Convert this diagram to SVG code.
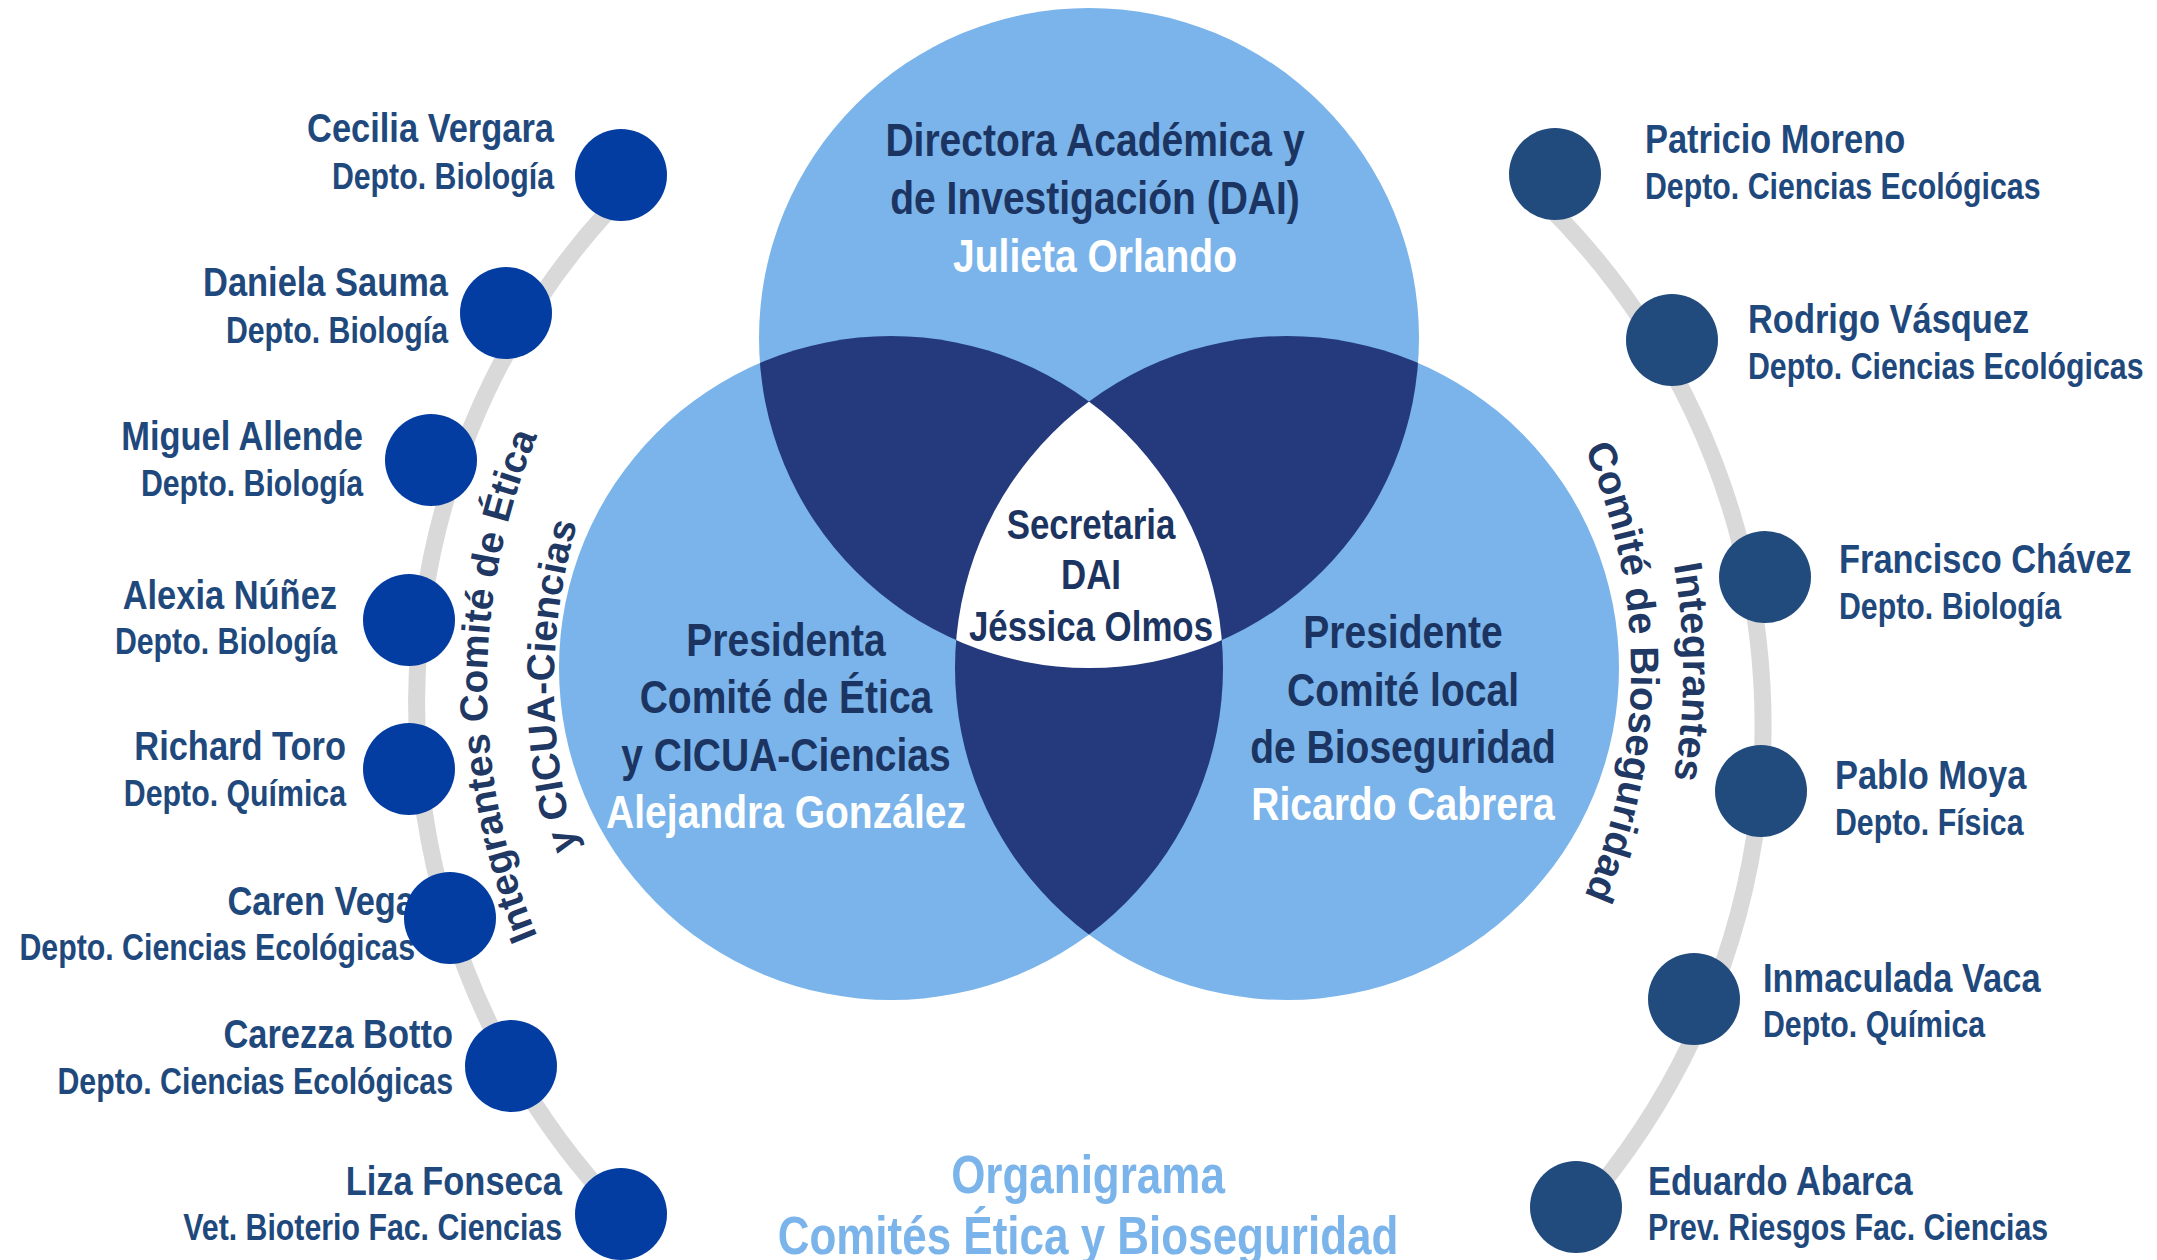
<svg xmlns="http://www.w3.org/2000/svg" width="2157" height="1260" viewBox="0 0 2157 1260">
<style>
.t{font-family:"Liberation Sans",Arial,sans-serif;font-weight:bold}
.nm{font-size:41.5px;fill:#1F497D}
.dp{font-size:36.5px;fill:#1F497D}
.vt{font-size:47px;fill:#1C3461}
.vs{font-size:42px;fill:#1C3461}
.w{fill:#FFFFFF}
.lab{font-size:39px;fill:#1F3864}
.labr{font-size:40px;fill:#1F3864}
.lb{fill:#7AB4EA}
.dk{fill:#243A7C}
.nl{fill:#033DA1}
.nr{fill:#214B7C}
.arc{fill:none;stroke:#D9D9D9;stroke-width:17}
.ttl{font-size:53px;fill:#7AB4EA}
</style>
<defs>
<clipPath id="cL"><circle cx="891" cy="668" r="332"/></clipPath>
<clipPath id="cR"><circle cx="1287" cy="668" r="332"/></clipPath>
<path id="pL1" d="M 718.1 1181.6 A 647 647 0 0 1 718.1 190.4" fill="none"/>
<path id="pL2" d="M 761.2 1130.3 A 580 580 0 0 1 761.2 241.7" fill="none"/>
<path id="pR1" d="M 1463.7 201.6 A 614 614 0 0 1 1463.7 1142.4" fill="none"/>
<path id="pR2" d="M 1430.2 241.5 A 562 562 0 0 1 1430.2 1102.5" fill="none"/>
</defs>
<rect width="2157" height="1260" fill="#FFFFFF"/>

<g id="dai">
<circle class="lb" cx="1089" cy="338" r="330"/>
<text class="t vt" text-anchor="middle" transform="translate(1095 0) scale(0.83 1)"><tspan x="0" y="156">Directora Académica y</tspan><tspan x="0" y="214">de Investigación (DAI)</tspan><tspan class="w" x="0" y="272">Julieta Orlando</tspan></text>
</g>

<g id="comite-etica">
<circle class="lb" cx="891" cy="668" r="332"/>
<text class="t vt" text-anchor="middle" transform="translate(786 0) scale(0.83 1)"><tspan x="0" y="656">Presidenta</tspan><tspan x="0" y="713">Comité de Ética</tspan><tspan x="0" y="771">y CICUA-Ciencias</tspan><tspan class="w" x="0" y="828">Alejandra González</tspan></text>
</g>

<g id="comite-bioseguridad">
<circle class="lb" cx="1287" cy="668" r="332"/>
<text class="t vt" text-anchor="middle" transform="translate(1403 0) scale(0.83 1)"><tspan x="0" y="648">Presidente</tspan><tspan x="0" y="706">Comité local</tspan><tspan x="0" y="763">de Bioseguridad</tspan><tspan class="w" x="0" y="820">Ricardo Cabrera</tspan></text>
</g>

<g id="overlaps">
<circle class="dk" cx="1089" cy="338" r="330" clip-path="url(#cL)"/>
<circle class="dk" cx="1089" cy="338" r="330" clip-path="url(#cR)"/>
<circle class="dk" cx="891" cy="668" r="332" clip-path="url(#cR)"/>
<g clip-path="url(#cL)"><circle fill="#FFFFFF" cx="1089" cy="338" r="330" clip-path="url(#cR)"/></g>
</g>

<g id="secretaria">
<text class="t vs" text-anchor="middle" transform="translate(1091 0) scale(0.83 1)"><tspan x="0" y="539">Secretaria</tspan><tspan x="0" y="589">DAI</tspan><tspan x="0" y="641">Jéssica Olmos</tspan></text>
</g>

<g id="labels">
<text class="t lab"><textPath href="#pL1" startOffset="50%" text-anchor="middle">Integrantes Comité de Ética</textPath></text>
<text class="t lab"><textPath href="#pL2" startOffset="50%" text-anchor="middle">y CICUA-Ciencias</textPath></text>
<text class="t labr"><textPath href="#pR1" startOffset="50%" text-anchor="middle">Integrantes</textPath></text>
<text class="t labr"><textPath href="#pR2" startOffset="50%" text-anchor="middle">Comité de Bioseguridad</textPath></text>
</g>

<g id="connectors">
<path class="arc" d="M 609 210 A 733 733 0 0 0 600 1190"/>
<path class="arc" d="M 1542 200 A 734 734 0 0 1 1597 1190"/>
</g>

<g id="m-cecilia">
<text class="t nm" text-anchor="end" transform="translate(554 0) scale(0.83 1)"><tspan x="0" y="142">Cecilia Vergara</tspan><tspan class="dp" x="0" y="189">Depto. Biología</tspan></text>
<circle class="nl" cx="621" cy="175" r="46"/>
</g>
<g id="m-daniela">
<text class="t nm" text-anchor="end" transform="translate(448 0) scale(0.83 1)"><tspan x="0" y="296">Daniela Sauma</tspan><tspan class="dp" x="0" y="343">Depto. Biología</tspan></text>
<circle class="nl" cx="506" cy="313" r="46"/>
</g>
<g id="m-miguel">
<text class="t nm" text-anchor="end" transform="translate(363 0) scale(0.83 1)"><tspan x="0" y="450">Miguel Allende</tspan><tspan class="dp" x="0" y="496">Depto. Biología</tspan></text>
<circle class="nl" cx="431" cy="460" r="46"/>
</g>
<g id="m-alexia">
<text class="t nm" text-anchor="end" transform="translate(337 0) scale(0.83 1)"><tspan x="0" y="609">Alexia Núñez</tspan><tspan class="dp" x="0" y="654">Depto. Biología</tspan></text>
<circle class="nl" cx="409" cy="620" r="46"/>
</g>
<g id="m-richard">
<text class="t nm" text-anchor="end" transform="translate(346 0) scale(0.83 1)"><tspan x="0" y="760">Richard Toro</tspan><tspan class="dp" x="0" y="806">Depto. Química</tspan></text>
<circle class="nl" cx="409" cy="769" r="46"/>
</g>
<g id="m-caren">
<text class="t nm" text-anchor="end" transform="translate(415 0) scale(0.83 1)"><tspan x="0" y="915">Caren Vega</tspan><tspan class="dp" x="0" y="960">Depto. Ciencias Ecológicas</tspan></text>
<circle class="nl" cx="450" cy="918" r="46"/>
</g>
<g id="m-carezza">
<text class="t nm" text-anchor="end" transform="translate(453 0) scale(0.83 1)"><tspan x="0" y="1048">Carezza Botto</tspan><tspan class="dp" x="0" y="1094">Depto. Ciencias Ecológicas</tspan></text>
<circle class="nl" cx="511" cy="1066" r="46"/>
</g>
<g id="m-liza">
<text class="t nm" text-anchor="end" transform="translate(562 0) scale(0.83 1)"><tspan x="0" y="1195">Liza Fonseca</tspan><tspan class="dp" x="0" y="1240">Vet. Bioterio Fac. Ciencias</tspan></text>
<circle class="nl" cx="621" cy="1214" r="46"/>
</g>

<g id="m-patricio">
<circle class="nr" cx="1555" cy="174" r="46"/>
<text class="t nm" transform="translate(1645 0) scale(0.83 1)"><tspan x="0" y="153">Patricio Moreno</tspan><tspan class="dp" x="0" y="199">Depto. Ciencias Ecológicas</tspan></text>
</g>
<g id="m-rodrigo">
<circle class="nr" cx="1672" cy="340" r="46"/>
<text class="t nm" transform="translate(1748 0) scale(0.83 1)"><tspan x="0" y="333">Rodrigo Vásquez</tspan><tspan class="dp" x="0" y="379">Depto. Ciencias Ecológicas</tspan></text>
</g>
<g id="m-francisco">
<circle class="nr" cx="1765" cy="577" r="46"/>
<text class="t nm" transform="translate(1839 0) scale(0.83 1)"><tspan x="0" y="573">Francisco Chávez</tspan><tspan class="dp" x="0" y="619">Depto. Biología</tspan></text>
</g>
<g id="m-pablo">
<circle class="nr" cx="1761" cy="791" r="46"/>
<text class="t nm" transform="translate(1835 0) scale(0.83 1)"><tspan x="0" y="789">Pablo Moya</tspan><tspan class="dp" x="0" y="835">Depto. Física</tspan></text>
</g>
<g id="m-inmaculada">
<circle class="nr" cx="1694" cy="999" r="46"/>
<text class="t nm" transform="translate(1763 0) scale(0.83 1)"><tspan x="0" y="992">Inmaculada Vaca</tspan><tspan class="dp" x="0" y="1037">Depto. Química</tspan></text>
</g>
<g id="m-eduardo">
<circle class="nr" cx="1576" cy="1207" r="46"/>
<text class="t nm" transform="translate(1648 0) scale(0.83 1)"><tspan x="0" y="1195">Eduardo Abarca</tspan><tspan class="dp" x="0" y="1240">Prev. Riesgos Fac. Ciencias</tspan></text>
</g>

<g id="title">
<text class="t ttl" text-anchor="middle" transform="translate(1088 0) scale(0.83 1)"><tspan x="0" y="1193">Organigrama</tspan><tspan x="0" y="1254">Comités Ética y Bioseguridad</tspan></text>
</g>
</svg>
